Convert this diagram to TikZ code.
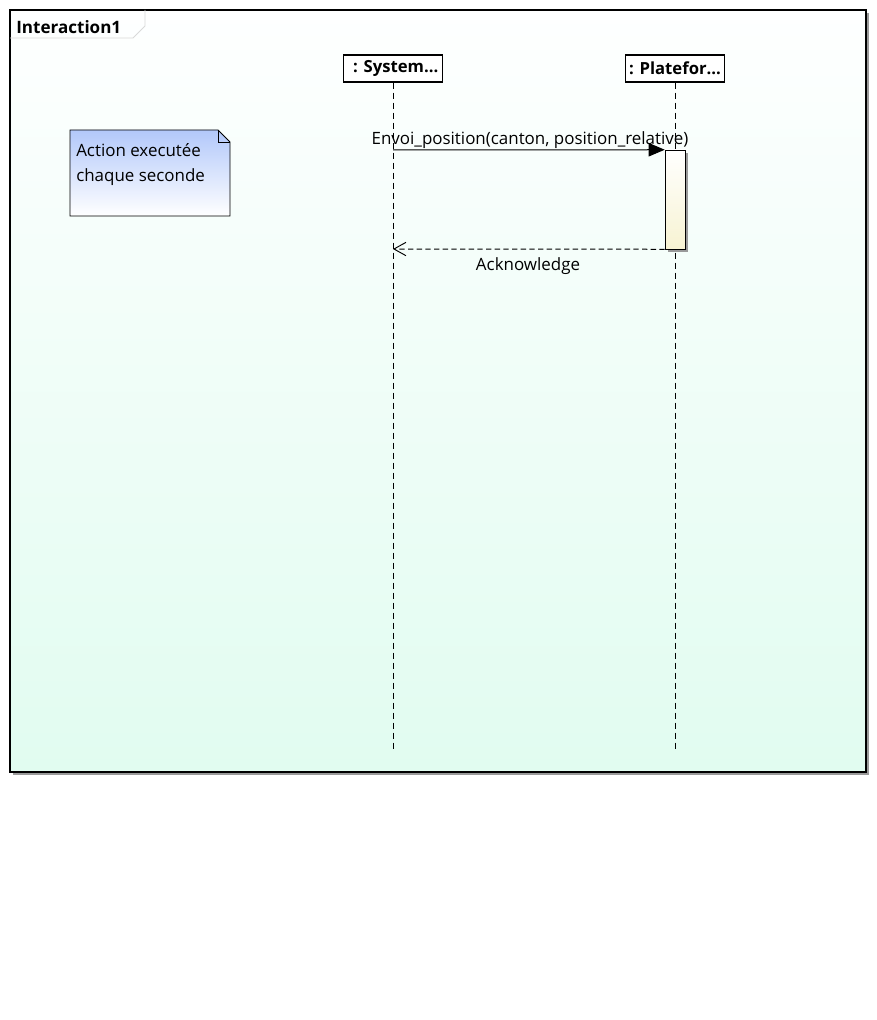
\documentclass[tikz,border=0pt]{standalone}
\usepackage{fontspec}
\setmainfont{Open Sans}
\usetikzlibrary{arrows.meta,calc}
\definecolor{framebot}{HTML}{E1FCF0}
\definecolor{frametop}{HTML}{FEFFFF}
\definecolor{notetop}{HTML}{B2C8FA}
\definecolor{actbot}{HTML}{F7F3D2}
\definecolor{shadowgray}{HTML}{9A9A9A}
\tikzset{
  x=0.75pt, y=-0.75pt,
  lifebox/.style={draw=black, fill=white, line width=0.8pt, minimum width=99*0.75pt,
    minimum height=27*0.75pt, inner sep=0pt, font=\fontsize{12.5}{14}\selectfont\bfseries},
  lifeline/.style={dashed, dash pattern=on 4.5pt off 3pt, line width=0.6pt},
  msgtxt/.style={font=\fontsize{12.7}{15}\selectfont, inner sep=0pt},
  syncmsg/.style={line width=0.75pt, -{Triangle[length=12pt,width=10pt]}},
  replymsg/.style={line width=0.75pt, dashed, dash pattern=on 4pt off 2.5pt,
    -{Straight Barb[length=9pt,width=10pt,line width=0.7pt]}},
}
\begin{document}
\begin{tikzpicture}
\useasboundingbox (0,0) rectangle (877,1020);
% interaction frame with drop shadow and gradient fill
\fill[shadowgray] (13,13) rectangle (869,775);
\shade[top color=frametop, bottom color=framebot] (10,10) rectangle (866,772);
\draw[line width=0.8pt] (10,10) rectangle (866,772);
% frame tab
\draw[black!15, line width=0.6pt] (145,10) -- (145,26) -- (133,38) -- (10,38);
\node[anchor=west, inner sep=0pt, font=\fontsize{12.8}{15}\selectfont\bfseries] (title) at (16,27) {Interaction1};

% lifelines
\node[lifebox] (sys) at (393,68.5) {\hspace{4pt}: System...};
\node[lifebox] (plat) at (675,68.5) {: Platefor...};
\coordinate (sysend) at (393,752);
\coordinate (platend) at (675,752);
\draw[lifeline] (sys.south) -- (sysend);
\draw[lifeline] (plat.south) -- (platend);

% activation on the platform lifeline
\fill[shadowgray] (668,153) rectangle (688,252);
\shade[top color=white, bottom color=actbot, draw=black, line width=0.6pt]
  (665,150) rectangle (685,249);
\node[inner sep=0pt, minimum width=20*0.75pt, minimum height=99*0.75pt] (act) at (675,199.5) {};

% note
\shade[top color=notetop, bottom color=white, draw=black, line width=0.6pt]
  (70,130) -- (218,130) -- (230,142) -- (230,216) -- (70,216) -- cycle;
\draw[line width=0.5pt] (218,130) -- (218,142) -- (230,142);
\node[anchor=north west, align=left, inner sep=0pt, font=\fontsize{12.7}{18.75}\selectfont] (note) at (76,143)
  {Action executée\\chaque seconde};

% messages
\coordinate (callsrc) at (393,150);
\coordinate (replydst) at (393,249);
\draw[syncmsg] (callsrc) -- (act.north west);
\node[msgtxt] (calllbl) at (530,140.5) {Envoi\_position(canton, position\_relative)};
\draw[replymsg] (act.south west) -- (replydst);
\node[msgtxt] (replylbl) at (528,266.5) {Acknowledge};
\end{tikzpicture}
\end{document}
